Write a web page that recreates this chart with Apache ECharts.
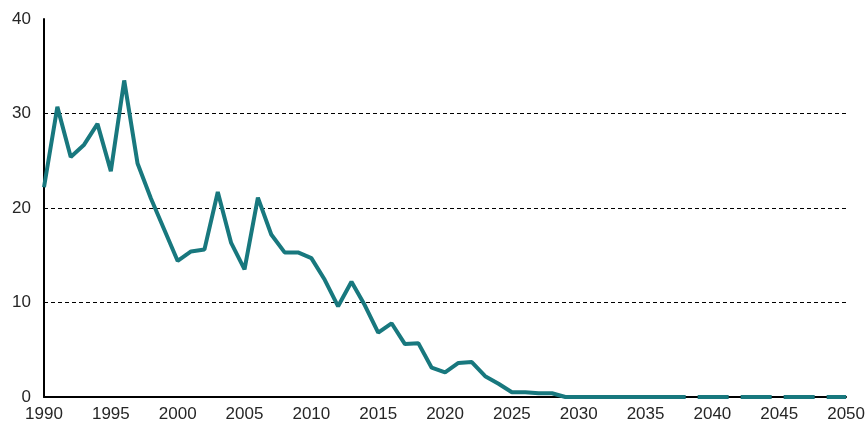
<!DOCTYPE html>
<html>
<head>
<meta charset="utf-8">
<script src="https://cdn.jsdelivr.net/npm/echarts@6/dist/echarts.min.js"></script>
<style>
  html, body { margin: 0; padding: 0; background: #fff; }
  #chart { width: 868px; height: 423px; }
</style>
</head>
<body>
<div id="chart"></div>
<script>
const years = [];
for (let y = 1990; y <= 2050; y++) years.push(y);

// values, 1990..2038 (solid part)
const history = [
  22.2, 30.7, 25.4, 26.7, 28.9, 23.9, 33.5, 24.7, 21.0, 17.7,
  14.4, 15.4, 15.6, 21.7, 16.3, 13.5, 21.1, 17.2, 15.3, 15.3,
  14.7, 12.4, 9.6, 12.2, 9.7, 6.8, 7.8, 5.6, 5.7, 3.1,
  2.6, 3.6, 3.7, 2.2, 1.4, 0.5, 0.5, 0.4, 0.4, 0,
  0, 0, 0, 0, 0, 0, 0, 0, 0
];
// 2038..2050 (dashed part)
const outlook = [0, 0, 0, 0, 0, 0, 0, 0, 0, 0, 0, 0, 0];

const solidData = history.map((v, i) => [years[i], v]);
const dashData = outlook.map((v, i) => [2038 + i, v]);

const chart = echarts.init(document.getElementById("chart"), null, { renderer: "canvas" });
const teal = "#18787e";
const font = "Liberation Sans, Arial, sans-serif";

chart.setOption({
  animation: false,
  grid: { left: 44, right: 21, top: 19, bottom: 26 },
  xAxis: {
    type: "value",
    min: 1990,
    max: 2050,
    interval: 5,
    axisLine: { show: true, onZero: false, lineStyle: { color: "#000", width: 2 } },
    axisTick: { show: false },
    axisLabel: { color: "#262626", fontSize: 17, fontFamily: font, margin: 9, formatter: (v) => String(v) },
    splitLine: { show: false }
  },
  yAxis: {
    type: "value",
    min: 0,
    max: 40,
    interval: 10,
    axisLine: { show: true, lineStyle: { color: "#000", width: 2 } },
    axisTick: { show: false },
    axisLabel: { color: "#262626", fontSize: 17, fontFamily: font, margin: 13 },
    splitLine: {
      show: true,
      showMinLine: false,
      showMaxLine: false,
      lineStyle: { color: "#000", width: 1, type: [4, 3] }
    }
  },
  series: [
    {
      type: "line",
      data: solidData,
      symbol: "none",
      lineStyle: { color: teal, width: 4 },
      z: 3
    },
    {
      type: "line",
      data: dashData,
      symbol: "none",
      lineStyle: { color: teal, width: 4, type: [31, 12], dashOffset: 31 },
      z: 3
    }
  ]
});
</script>
</body>
</html>
